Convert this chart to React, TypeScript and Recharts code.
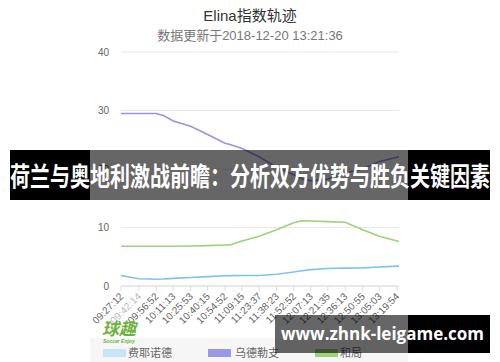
import React from "react";
import { LineChart, Line, XAxis, YAxis, CartesianGrid } from "recharts";

const times = [
  "09:27:12", "09:42:14", "09:56:52", "10:03:30", "10:11:13", "10:25:53",
  "10:40:15", "10:54:52", "10:59:10", "11:09:15", "11:23:37", "11:38:23",
  "11:52:52", "12:00:00", "12:07:13", "12:21:35", "12:36:13", "12:50:55",
  "13:05:03", "13:19:54", "13:21:36",
];

const feyenoord = [
  1.8, 1.25, 1.15, 1.2, 1.3, 1.45, 1.6, 1.75, 1.77, 1.8, 1.8, 2.0,
  2.4, 2.6, 2.8, 3.0, 3.05, 3.1, 3.25, 3.4, 3.4,
];

const utrecht = [
  29.5, 29.5, 29.5, 29.1, 28.2, 27.3, 25.9, 24.4, 24.2, 23.5, 22.1, 20.3,
  19.0, 18.3, 18.0, 18.3, 19.3, 20.0, 21.3, 22.0, 22.1,
];

const draw = [
  6.8, 6.8, 6.8, 6.8, 6.8, 6.85, 6.9, 7.0, 7.0, 7.7, 8.5, 9.6,
  10.8, 11.15, 11.1, 11.0, 10.9, 9.6, 8.5, 7.7, 7.6,
];

const tickLabels = [
  "09:27:12", "09:42:14", "09:56:52", "10:11:13", "10:25:53", "10:40:15",
  "10:54:52", "11:09:15", "11:23:37", "11:38:23", "11:52:52", "12:07:13",
  "12:21:35", "12:36:13", "12:50:55", "13:05:03", "13:19:54",
];

const yTicks = [0, 10, 20, 30, 40];

const toSec = (s: string) => {
  const [h, m, sec] = s.split(":").map(Number);
  return h * 3600 + m * 60 + sec;
};
const pad = (n: number) => String(n).padStart(2, "0");
const fmt = (v: number) =>
  `${pad(Math.floor(v / 3600))}:${pad(Math.floor((v % 3600) / 60))}:${pad(v % 60)}`;

const data = times.map((t, i) => ({
  t: toSec(t),
  feyenoord: feyenoord[i],
  utrecht: utrecht[i],
  draw: draw[i],
}));

const xTicks = tickLabels.map(toSec);

const COLORS = { feyenoord: "#80c3e6", utrecht: "#9893e6", draw: "#9fd07c" };
const FONT = '"Liberation Sans", "Noto Sans CJK SC", sans-serif';

const XTick = (props: any) => {
  const { x, y, payload, index } = props;
  return (
    <text
      x={x + 3}
      y={y + 4}
      textAnchor="end"
      fontSize={10}
      fill={index === 1 ? "#bbb" : "#666"}
      fontFamily={FONT}
      transform={`rotate(-45 ${x + 3} ${y + 4})`}
    >
      {fmt(payload.value)}
    </text>
  );
};

const legendItems = [
  { label: "费耶诺德", color: "#c9e4f4", x: 103, tx: 128 },
  { label: "乌德勒支", color: "#9b98e8", x: 208, tx: 235 },
  { label: "和局", color: "#9fd07c", x: 315, tx: 340 },
];

export default function App() {
  return (
    <div
      style={{
        position: "absolute",
        left: 0,
        top: 0,
        width: 500,
        height: 362,
        background: "#fff",
        overflow: "hidden",
        fontFamily: FONT,
      }}
    >
      <div style={{ position: "absolute", left: 90, top: 338, width: 318, height: 24, background: "#f6f6f6" }} />
      <div style={{ position: "absolute", left: 0, top: 4, width: 500, textAlign: "center", fontSize: 15, color: "#333" }}>
        Elina指数轨迹
      </div>
      <div style={{ position: "absolute", left: 0, top: 25, width: 500, textAlign: "center", fontSize: 13, color: "#777" }}>
        数据更新于2018-12-20 13:21:36
      </div>
      <div style={{ position: "absolute", left: 0, top: 0 }}>
        <LineChart width={500} height={362} data={data} margin={{ top: 52, right: 101, bottom: 0, left: 0 }}>
          <CartesianGrid vertical={false} stroke="#e8e8e8" />
          <XAxis
            dataKey="t"
            type="number"
            domain={[toSec("09:27:12"), toSec("13:21:36")]}
            ticks={xTicks}
            interval={0}
            height={76}
            stroke="#ddd"
            tickSize={5}
            tick={<XTick />}
          />
          <YAxis
            domain={[0, 40]}
            ticks={yTicks}
            width={121}
            axisLine={false}
            tickLine={false}
            tickSize={0}
            tickMargin={12}
            tick={{ fontSize: 10, fill: "#666", fontFamily: FONT }}
          />
          <Line type="linear" dataKey="feyenoord" stroke={COLORS.feyenoord} strokeWidth={1.6} dot={false} isAnimationActive={false} />
          <Line type="linear" dataKey="utrecht" stroke={COLORS.utrecht} strokeWidth={1.6} dot={false} isAnimationActive={false} />
          <Line type="linear" dataKey="draw" stroke={COLORS.draw} strokeWidth={1.6} dot={false} isAnimationActive={false} />
        </LineChart>
      </div>
      {legendItems.map((it) => (
        <React.Fragment key={it.label}>
          <div style={{ position: "absolute", left: it.x, top: 349, width: 23, height: 8, background: it.color }} />
          <div style={{ position: "absolute", left: it.tx, top: 344, fontSize: 11, color: "#666", whiteSpace: "nowrap" }}>
            {it.label}
          </div>
        </React.Fragment>
      ))}
      <div style={{ position: "absolute", left: 102, top: 318, color: "#6cb33e", fontSize: 17, fontWeight: 700, fontStyle: "italic", fontFamily: '"Noto Sans CJK SC", sans-serif', lineHeight: "20px" }}>
        球趣
      </div>
      <div style={{ position: "absolute", left: 103, top: 338, color: "#6cb33e", fontSize: 5, fontStyle: "italic", fontWeight: 700 }}>
        Soccer Enjoy
      </div>
      {/* banner */}
      <div style={{ position: "absolute", left: 10, top: 150, width: 80, height: 50, background: "#000" }} />
      <div style={{ position: "absolute", left: 90, top: 150, width: 318, height: 50, background: "rgba(0,0,0,0.6)" }} />
      <div style={{ position: "absolute", left: 408, top: 150, width: 82, height: 50, background: "#000" }} />
      <div
        style={{
          position: "absolute",
          left: 10,
          top: 164,
          width: 480,
          textAlign: "center",
          color: "#fff",
          fontSize: 20,
          fontWeight: 700,
          lineHeight: "24px",
          whiteSpace: "nowrap",
          fontFamily: '"Noto Sans CJK SC", sans-serif',
          transform: "scaleY(1.3)",
          transformOrigin: "50% 50%",
        }}
      >
        荷兰与奥地利激战前瞻：分析双方优势与胜负关键因素
      </div>
      {/* watermark */}
      <div style={{ position: "absolute", left: 275, top: 315, width: 133, height: 38, background: "rgba(0,0,0,0.6)" }} />
      <div style={{ position: "absolute", left: 408, top: 315, width: 82, height: 38, background: "#000" }} />
      <div
        style={{
          position: "absolute",
          left: 275,
          top: 322,
          width: 215,
          textAlign: "center",
          color: "#fff",
          fontSize: 17,
          fontWeight: 700,
          lineHeight: "24px",
          whiteSpace: "nowrap",
          fontFamily: '"Open Sans", sans-serif',
        }}
      >
        www.zhnk-leigame.com
      </div>
    </div>
  );
}
